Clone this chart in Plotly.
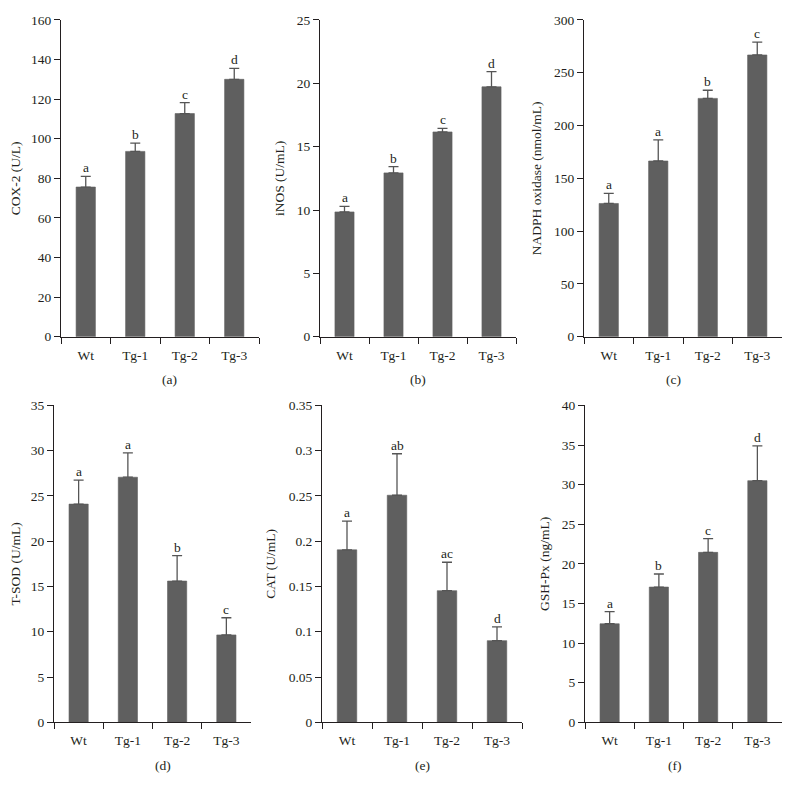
import plotly.graph_objects as go

categories = ["Wt", "Tg-1", "Tg-2", "Tg-3"]

cox2_mean = [75.6, 93.6, 112.7, 130.0]
cox2_err = [5.4, 4.2, 5.5, 5.5]
cox2_letters = ["a", "b", "c", "d"]

inos_mean = [9.85, 12.93, 16.16, 19.72]
inos_err = [0.44, 0.5, 0.28, 1.2]
inos_letters = ["a", "b", "c", "d"]

nadph_mean = [126.2, 166.4, 225.7, 266.8]
nadph_err = [9.6, 20.0, 7.7, 12.2]
nadph_letters = ["a", "a", "b", "c"]

tsod_mean = [24.1, 27.07, 15.6, 9.65]
tsod_err = [2.65, 2.7, 2.8, 1.9]
tsod_letters = ["a", "a", "b", "c"]

cat_mean = [0.1905, 0.2508, 0.1454, 0.0902]
cat_err = [0.0318, 0.0458, 0.0314, 0.0152]
cat_letters = ["a", "ab", "ac", "d"]

gsh_mean = [12.44, 17.07, 21.45, 30.5]
gsh_err = [1.53, 1.65, 1.73, 4.4]
gsh_letters = ["a", "b", "c", "d"]

y_titles = ["COX-2 (U/L)", "iNOS (U/mL)", "NADPH oxidase (nmol/mL)",
            "T-SOD (U/mL)", "CAT (U/mL)", "GSH-Px (ng/mL)"]
panel_labels = ["(a)", "(b)", "(c)", "(d)", "(e)", "(f)"]
y_ranges = [[0, 160], [0, 25], [0, 300], [0, 35], [0, 0.35], [0, 40]]
y_dticks = [20, 5, 50, 5, 0.05, 5]

means = [cox2_mean, inos_mean, nadph_mean, tsod_mean, cat_mean, gsh_mean]
errs = [cox2_err, inos_err, nadph_err, tsod_err, cat_err, gsh_err]
letters = [cox2_letters, inos_letters, nadph_letters, tsod_letters, cat_letters, gsh_letters]

# the page body has a default 8px margin: positions are given in screen pixels
OFF = 8
W, H = 790, 789
x_domains_px = [(61, 259), (320, 516), (584, 782), (54, 251), (322, 522), (585, 782)]
y_domains_px = [(13, 336), (13, 336), (13, 336), (406, 729), (406, 729), (406, 729)]

FONT = "Liberation Serif"
FS = 13.5
BAR = "#5f5f5f"
TXT = "#231f20"

fig = go.Figure()
layout = dict(
    width=W, height=H, margin=dict(l=0, r=0, t=0, b=0),
    paper_bgcolor="white", plot_bgcolor="white", showlegend=False,
    font=dict(family=FONT, size=FS, color=TXT),
)
annotations = []


def px_x(v):
    return (v - OFF) / W


def px_y(v):
    return (H - (v - OFF)) / H


for i in range(6):
    n = "" if i == 0 else str(i + 1)
    xa, ya = "x" + n, "y" + n
    fig.add_trace(go.Bar(
        x=categories, y=means[i], xaxis=xa, yaxis=ya, width=0.39,
        marker=dict(color=BAR, line=dict(width=0.6, color=BAR)),
        error_y=dict(type="data", array=errs[i], arrayminus=[0] * 4, symmetric=False,
                     color="#555555", thickness=1.3, width=5),
    ))
    x0, x1 = x_domains_px[i]
    yt, yb = y_domains_px[i]
    layout["xaxis" + n] = dict(
        domain=[px_x(x0), px_x(x1)], anchor=ya, type="category", range=[-0.5, 3.5],
        showline=True, linecolor="#231f20", linewidth=1, ticks="outside", ticklen=6,
        tickcolor="#231f20", tickson="boundaries", showgrid=False, zeroline=False,
        tickfont=dict(family=FONT, size=FS, color=TXT), ticklabelstandoff=6,
    )
    layout["yaxis" + n] = dict(
        domain=[px_y(yb), px_y(yt)], anchor=xa, range=y_ranges[i],
        dtick=y_dticks[i], tick0=0, showline=True, linecolor="#231f20", linewidth=1,
        ticks="outside", ticklen=6, tickcolor="#231f20", showgrid=False, zeroline=False,
        tickfont=dict(family=FONT, size=FS, color=TXT),
        title=dict(text=y_titles[i], font=dict(family=FONT, size=FS, color=TXT), standoff=9),
    )
    for j, c in enumerate(categories):
        annotations.append(dict(
            x=c, y=means[i][j] + errs[i][j], xref=xa, yref=ya, text=letters[i][j],
            showarrow=False, yanchor="bottom", yshift=-1,
            font=dict(family=FONT, size=FS, color=TXT),
        ))
    annotations.append(dict(
        x=px_x((x0 + x1) / 2), y=px_y(yb + 44), xref="paper", yref="paper",
        text=panel_labels[i], showarrow=False, yanchor="middle",
        font=dict(family=FONT, size=FS, color=TXT),
    ))

layout["annotations"] = annotations
fig.update_layout(**layout)
fig.write_html("out.html")
